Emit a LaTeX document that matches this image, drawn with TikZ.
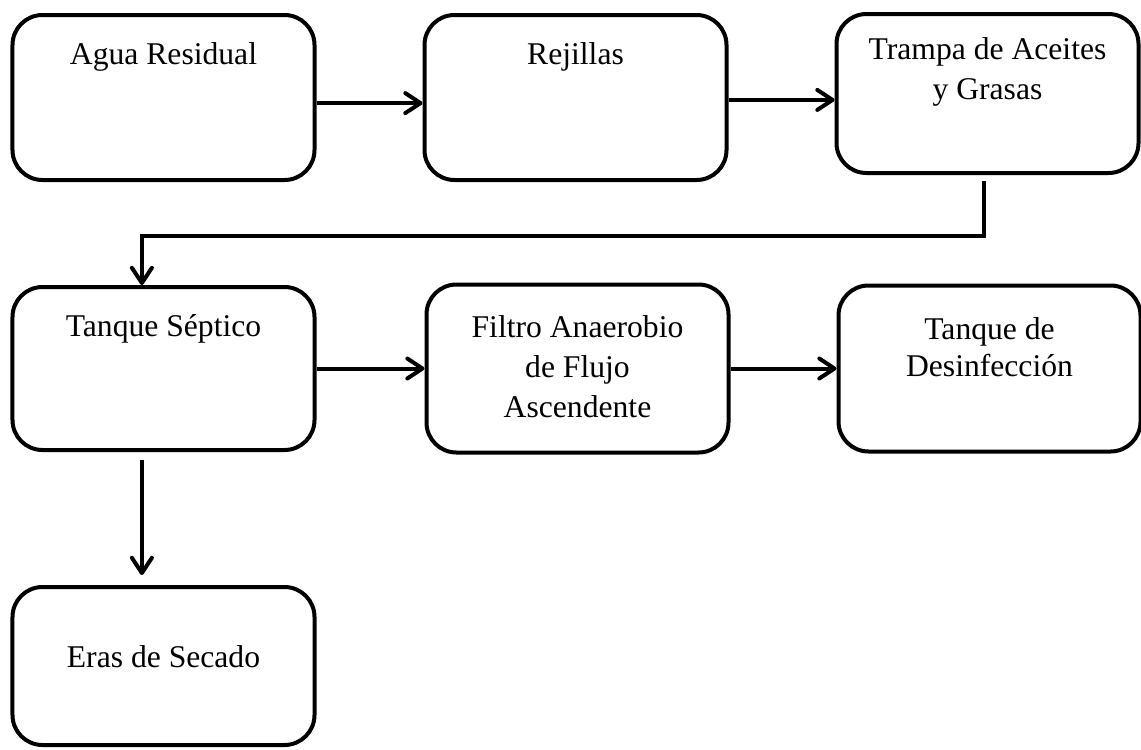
\documentclass[tikz,border=0pt]{standalone}
\usepackage{fontspec}
\setmainfont{Liberation Serif}
\usetikzlibrary{positioning,arrows.meta}

\begin{document}
\begin{tikzpicture}[node distance=2.65cm,
        caja/.style={draw, rectangle, rounded corners=0.75cm, line width=0.1cm, minimum width=7.55cm, minimum height=4.125cm},
        rotulo/.style={align=center, inner sep=0pt, font=\fontsize{22.5pt}{28.5pt}\selectfont},
        flecha/.style={line width=0.1cm, -{Straight Barb[round, length=0.38cm, width=0.5cm]}}]
        \useasboundingbox (0,0) rectangle (28.525,-18.725);

        \node (agua) [caja] at (4.0875,-2.4375) {};
        \node (rejillas) [caja, right=of agua] {};
        \node (trampa) [caja, right=of rejillas, yshift=0.1cm, minimum height=3.975cm] {};
        \node (tanque) [caja, below=2.575cm of agua, minimum height=4.075cm] {};
        \node (filtro) [caja, right=2.7cm of tanque, minimum height=4.2cm] {};
        \node (desinf) [caja, right=2.65cm of filtro, minimum height=4.15cm] {};
        \node (eras) [caja, below=3.325cm of tanque, minimum height=3.95cm] {};

        \node (agua-t) [rotulo, below=0.725cm of agua.north] {Agua Residual};
        \node (rejillas-t) [rotulo, below=0.725cm of rejillas.north] {Rejillas};
        \node (trampa-t) [rotulo, below=0.64cm of trampa.north] {Trampa de Aceites\\y Grasas};
        \node (tanque-t) [rotulo, below=0.725cm of tanque.north] {Tanque Séptico};
        \node (filtro-t) [rotulo, below=0.825cm of filtro.north] {Filtro Anaerobio\\de Flujo\\Ascendente};
        \node (desinf-t) [rotulo, below=0.85cm of desinf.north] {Tanque de\\[-2pt]Desinfección};
        \node (eras-t) [rotulo, below=1.5cm of eras.north] {Eras de Secado};

        \draw[flecha] ([yshift=-0.14cm]agua.east) -- ([yshift=-0.14cm]rejillas.west);
        \draw[flecha] ([yshift=-0.06cm]rejillas.east) -- ([yshift=-0.16cm]trampa.west);
        \draw[flecha] ([xshift=-0.1cm,yshift=-0.15cm]trampa.south) -- ++(0,-1.375) -| ([xshift=-0.54cm]tanque.north);
        \draw[flecha] (tanque.east) -- (filtro.west);
        \draw[flecha] (filtro.east) -- (desinf.west);
        \draw[flecha] ([xshift=-0.54cm,yshift=-0.2cm]tanque.south) -- ([xshift=-0.54cm,yshift=0.25cm]eras.north);
    \end{tikzpicture}
\end{document}
